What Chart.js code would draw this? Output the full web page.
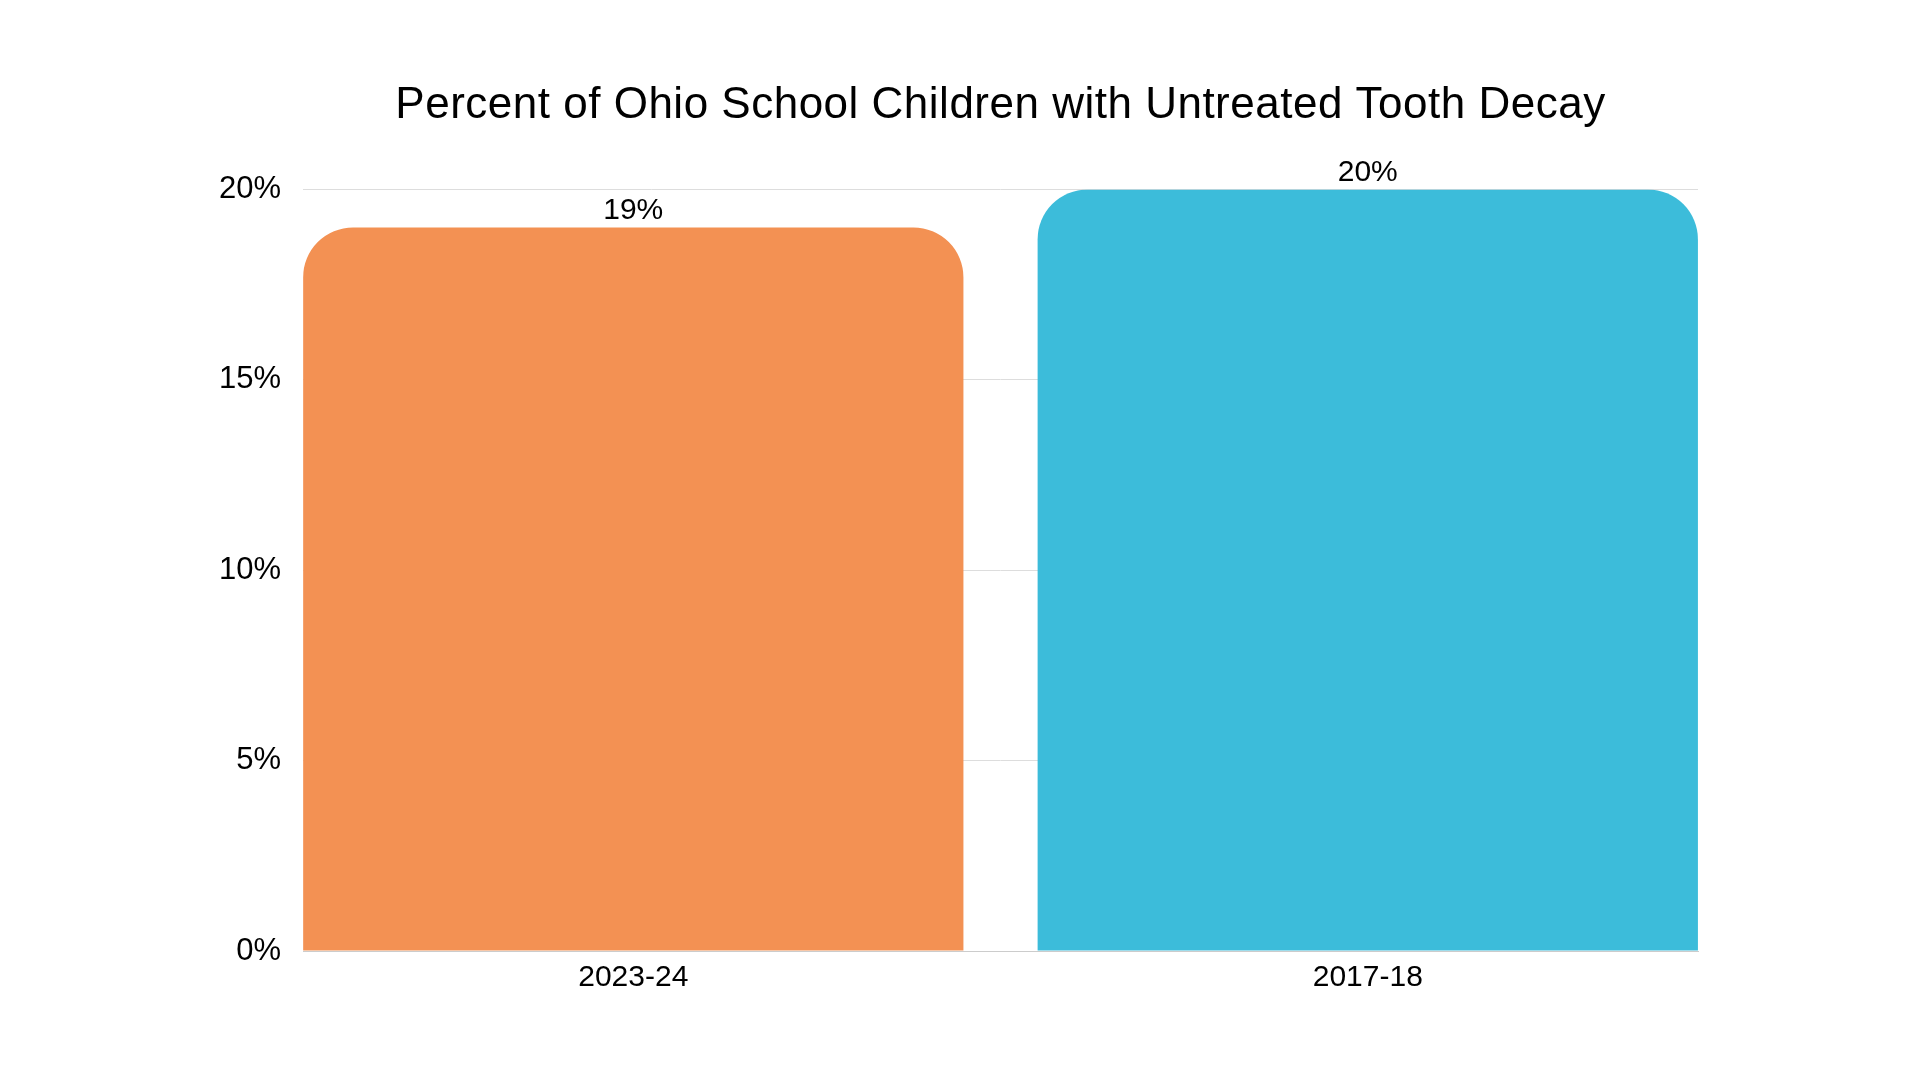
<!DOCTYPE html>
<html>
<head>
<meta charset="utf-8">
<script src="https://cdn.jsdelivr.net/npm/chart.js@4/dist/chart.umd.min.js"></script>
<style>
html,body{margin:0;padding:0;background:#fff;}
#wrap{width:1920px;height:1080px;position:relative;}
</style>
</head>
<body>
<div id="wrap"><canvas id="c"></canvas></div>
<script>
const titleText = 'Percent of Ohio School Children with Untreated Tooth Decay';
const categories = ['2023-24', '2017-18'];
const values = [19, 20];
const barColors = ['#F39153', '#3CBCDA'];
const yTicks = [0, 5, 10, 15, 20];

const FONT = "'Liberation Sans', Arial, Helvetica, sans-serif";

const valueLabels = {
  id: 'valueLabels',
  afterDatasetsDraw(chart) {
    const ctx = chart.ctx;
    const meta = chart.getDatasetMeta(0);
    ctx.save();
    ctx.font = '30px ' + FONT;
    ctx.fillStyle = '#000';
    ctx.textAlign = 'center';
    ctx.textBaseline = 'alphabetic';
    meta.data.forEach((bar, i) => {
      ctx.fillText(values[i] + '%', bar.x, bar.y - 8);
    });
    ctx.restore();
  }
};

const centeredTitle = {
  id: 'centeredTitle',
  afterDraw(chart) {
    const tb = chart.titleBlock;
    if (!tb) return;
    const ctx = chart.ctx;
    const ca = chart.chartArea;
    ctx.save();
    ctx.font = '44px ' + FONT;
    try { ctx.letterSpacing = '0.5px'; } catch (e) {}
    ctx.fillStyle = '#000';
    ctx.textAlign = 'center';
    ctx.textBaseline = 'middle';
    const pad = tb.options.padding;
    const y = tb.top + pad.top + (tb.height - pad.top - pad.bottom) / 2;
    ctx.fillText(titleText, (ca.left + ca.right) / 2, y);
    ctx.restore();
  }
};

new Chart(document.getElementById('c'), {
  type: 'bar',
  data: {
    datasets: [{
      data: values.map((v, i) => ({ x: i + 0.5, y: v })),
      backgroundColor: barColors,
      borderRadius: { topLeft: 50, topRight: 50, bottomLeft: 0, bottomRight: 0 },
      borderSkipped: 'bottom',
      categoryPercentage: 1,
      barPercentage: 0.899
    }]
  },
  options: {
    responsive: true,
    maintainAspectRatio: false,
    animation: false,
    layout: { padding: { top: 51, left: 197, right: 222, bottom: 75 } },
    plugins: {
      legend: { display: false },
      tooltip: { enabled: false },
      title: {
        display: true,
        text: titleText,
        color: 'rgba(0,0,0,0)',
        font: { family: FONT, size: 42, weight: 'normal' },
        padding: { top: 30, bottom: 58 }
      }
    },
    scales: {
      x: {
        type: 'linear',
        min: 0.0504,
        max: 1.9496,
        offset: false,
        afterBuildTicks(scale) {
          scale.ticks = categories.map((c, i) => ({ value: i + 0.5 }));
        },
        ticks: {
          color: '#000',
          font: { family: FONT, size: 30 },
          padding: 9,
          autoSkip: false,
          maxRotation: 0,
          callback: (v) => categories[Math.round(v - 0.5)]
        },
        grid: { display: false, drawTicks: false },
        border: { display: true, color: '#cccccc', width: 1 }
      },
      y: {
        min: 0,
        max: 20,
        afterBuildTicks(scale) {
          scale.ticks = yTicks.map(v => ({ value: v }));
        },
        ticks: {
          color: '#000',
          font: { family: FONT, size: 31 },
          padding: 22,
          callback: (v) => v + '%'
        },
        grid: { color: '#dddddd', drawTicks: false },
        border: { display: false }
      }
    }
  },
  plugins: [valueLabels, centeredTitle]
});
</script>
</body>
</html>
